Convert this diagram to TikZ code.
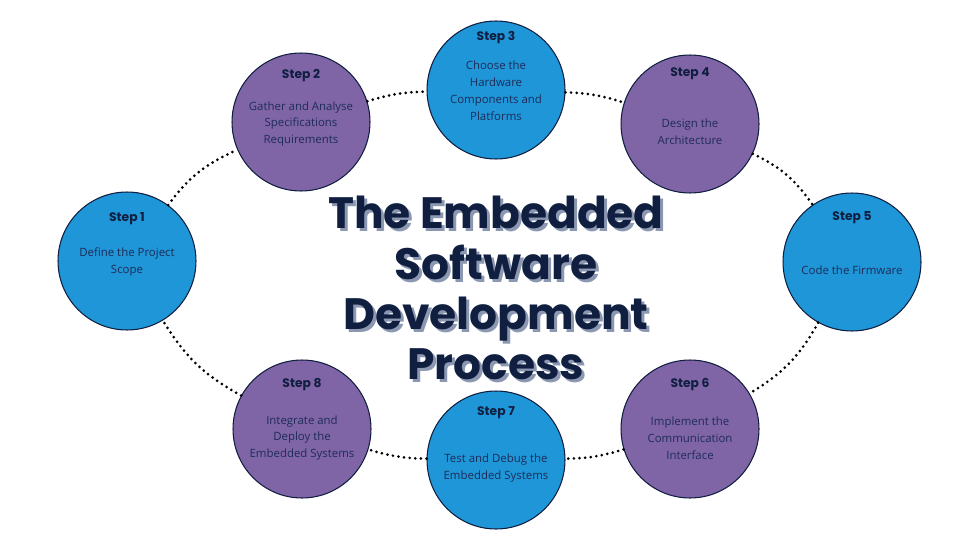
\documentclass[tikz,border=0pt]{standalone}
\usepackage{fontspec}
\setmainfont{Open Sans}
\newfontfamily\titlefont{Poppins}
\usetikzlibrary{calc, positioning}

\definecolor{stepblue}{RGB}{30,150,216}
\definecolor{steppurple}{RGB}{128,101,166}
\definecolor{navy}{RGB}{16,30,64}
\definecolor{shadowgray}{RGB}{140,152,178}
\definecolor{bodytext}{RGB}{30,44,88}

\begin{document}
\begin{tikzpicture}[x=0.02cm, y=-0.02cm,
    stepcircle/.style={circle, draw=navy, line width=0.6pt, minimum size=2.76cm, inner sep=0pt},
    bluestep/.style={stepcircle, fill=stepblue},
    purplestep/.style={stepcircle, fill=steppurple},
    steptext/.style={align=center, text=bodytext, font=\fontsize{6.5}{9.6}\selectfont},
    steplbl/.style={text=navy, font=\titlefont\bfseries\fontsize{7}{8}\selectfont},
    titletext/.style={align=center, text=navy, font=\titlefont\bfseries\fontsize{25}{28.5}\selectfont},
    link/.style={line width=1.7pt, line cap=round, dash pattern=on 0pt off 3.2pt}]

    \useasboundingbox (0,0) rectangle (980,551);

    % =================================================================
    % CAC VONG TRON BUOC
    % =================================================================
    \node[bluestep]   (s1) at (127,261) {};
    \node[purplestep] (s2) at (301,122) {};
    \node[bluestep]   (s3) at (496,90)  {};
    \node[purplestep] (s4) at (690,124) {};
    \node[bluestep]   (s5) at (852,262) {};
    \node[purplestep] (s6) at (690,429) {};
    \node[bluestep]   (s7) at (496,460) {};
    \node[purplestep] (s8) at (302,429) {};

    % =================================================================
    % NHAN "STEP"
    % =================================================================
    \node[steplbl] (l1) at ($(s1)+(0,-42)$) {Step 1};
    \node[steplbl] (l2) at ($(s2)+(0,-46)$) {Step 2};
    \node[steplbl] (l3) at ($(s3)+(0,-52)$) {Step 3};
    \node[steplbl] (l4) at ($(s4)+(0,-50)$) {Step 4};
    \node[steplbl] (l5) at ($(s5)+(0,-44)$) {Step 5};
    \node[steplbl] (l6) at ($(s6)+(0,-44)$) {Step 6};
    \node[steplbl] (l7) at ($(s7)+(0,-47)$) {Step 7};
    \node[steplbl] (l8) at ($(s8)+(0,-44)$) {Step 8};

    % =================================================================
    % NOI DUNG TUNG BUOC
    % =================================================================
    \node[steptext] (t1) at ($(s1)+(0,1)$) {Define the Project\\Scope};
    \node[steptext] (t2) at ($(s2)+(0,2)$) {Gather and Analyse\\Specifications\\Requirements};
    \node[steptext] (t3) at ($(s3)+(0,1)$) {Choose the\\Hardware\\Components and\\Platforms};
    \node[steptext] (t4) at ($(s4)+(0,8)$) {Design the\\Architecture};
    \node[steptext] (t5) at ($(s5)+(0,8)$) {Code the Firmware};
    \node[steptext] (t6) at ($(s6)+(0,9)$) {Implement the\\Communication\\Interface};
    \node[steptext] (t7) at ($(s7)+(0,8)$) {Test and Debug the\\Embedded Systems};
    \node[steptext] (t8) at ($(s8)+(0,9)$) {Integrate and\\Deploy the\\Embedded Systems};

    % =================================================================
    % DUONG CHAM NOI CAC BUOC
    % =================================================================
    \draw[link] (s1) to[bend left=15] (s2);
    \draw[link] (s2) to[bend left=8]  (s3);
    \draw[link] (s3) to[bend left=8]  (s4);
    \draw[link] (s4) to[bend left=15] (s5);
    \draw[link] (s5) to[bend left=15] (s6);
    \draw[link] (s6) to[bend left=8]  (s7);
    \draw[link] (s7) to[bend left=8]  (s8);
    \draw[link] (s8) to[bend left=15] (s1);

    % =================================================================
    % TIEU DE O GIUA (CO BONG)
    % =================================================================
    \node[titletext, text=shadowgray] (shadow) at (499,291) {The Embedded\\Software\\Development\\Process};
    \node[titletext] (title) at (496,288) {The Embedded\\Software\\Development\\Process};

\end{tikzpicture}
\end{document}
